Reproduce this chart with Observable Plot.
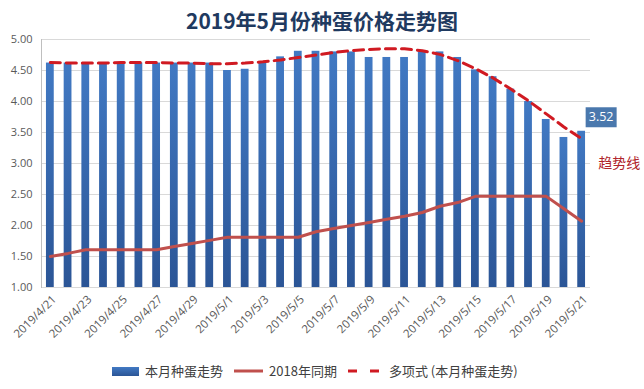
<!DOCTYPE html>
<html><head><meta charset="utf-8">
<script src="https://cdn.jsdelivr.net/npm/d3@7"></script>
<script src="https://cdn.jsdelivr.net/npm/@observablehq/plot@0.6"></script>
<style>
body{margin:0;background:#fff;font-family:"Noto Sans CJK SC","Noto Sans",sans-serif;}
#wrap{position:relative;width:644px;height:389px;overflow:hidden;background:#fff;}
#title{position:absolute;top:8px;left:0;width:644px;text-align:center;font-size:21px;line-height:24px;font-weight:bold;color:#1f3a60;}
#chart{position:absolute;top:0;left:0;}
#legend{position:absolute;top:361px;left:112px;height:20px;display:flex;justify-content:flex-start;align-items:center;font-size:13px;line-height:20px;color:#404040;white-space:nowrap;}
#legend .item{display:flex;align-items:center;margin-right:11px;}
#legend svg{margin-right:6px;}
</style></head>
<body>
<svg width="0" height="0" style="position:absolute"><defs>
<linearGradient id="barGrad" x1="0" y1="0" x2="0" y2="1"><stop offset="0" stop-color="#4179c3"/><stop offset="1" stop-color="#2b5596"/></linearGradient>
</defs></svg>
<div id="wrap">
  <div id="chart"></div>
  <div id="title">2019年5月份种蛋价格走势图</div>
  <div id="legend"></div>
</div>
<script>
const titleText = "2019年5月份种蛋价格走势图";
const dates = ["2019/4/21","2019/4/22","2019/4/23","2019/4/24","2019/4/25","2019/4/26","2019/4/27","2019/4/28","2019/4/29","2019/4/30",
  "2019/5/1","2019/5/2","2019/5/3","2019/5/4","2019/5/5","2019/5/6","2019/5/7","2019/5/8","2019/5/9","2019/5/10",
  "2019/5/11","2019/5/12","2019/5/13","2019/5/14","2019/5/15","2019/5/16","2019/5/17","2019/5/18","2019/5/19","2019/5/20","2019/5/21"];
const priceThisMonth = [4.62,4.62,4.62,4.62,4.62,4.62,4.62,4.62,4.62,4.62,
  4.50,4.52,4.62,4.72,4.81,4.81,4.80,4.80,4.71,4.71,
  4.71,4.80,4.80,4.71,4.51,4.40,4.20,4.00,3.71,3.42,3.52];
const priceLastYear = [1.50,1.55,1.61,1.61,1.61,1.61,1.61,1.66,1.71,1.76,
  1.81,1.81,1.81,1.81,1.81,1.90,1.95,2.00,2.05,2.10,
  2.15,2.21,2.31,2.37,2.47,2.47,2.47,2.47,2.47,2.27,2.07];
const trendValues = [4.63,4.62,4.62,4.62,4.63,4.63,4.63,4.62,4.62,4.61,
  4.61,4.62,4.64,4.67,4.71,4.75,4.79,4.82,4.84,4.85,
  4.85,4.82,4.76,4.66,4.53,4.38,4.20,4.01,3.80,3.59,3.40];
const xTickLabels = ["2019/4/21","2019/4/23","2019/4/25","2019/4/27","2019/4/29","2019/5/1","2019/5/3","2019/5/5",
  "2019/5/7","2019/5/9","2019/5/11","2019/5/13","2019/5/15","2019/5/17","2019/5/19","2019/5/21"];
const yTicks = [1.0,1.5,2.0,2.5,3.0,3.5,4.0,4.5,5.0];
const seriesNames = ["本月种蛋走势","2018年同期","多项式 (本月种蛋走势)"];
const trendLabel = "趋势线";

const rows = dates.map((d,i)=>({date:d, price:priceThisMonth[i], last:priceLastYear[i], trend:trendValues[i]}));
const lastRow = rows[rows.length-1];

const font = "'Open Sans','Noto Sans','Noto Sans CJK SC',sans-serif";
const chart = Plot.plot({
  width:644, height:350,
  marginLeft:41, marginRight:54, marginTop:39, marginBottom:63,
  style:{fontFamily:font, fontSize:"11px", color:"#595959", background:"transparent", overflow:"visible"},
  x:{type:"band", domain:dates, paddingInner:0.56, paddingOuter:0.28, round:false, label:null, axis:null},
  y:{domain:[1,5], label:null, axis:null},
  marks:[
    Plot.gridY(yTicks,{stroke:"#d9d9d9", strokeOpacity:1}),
    Plot.frame({anchor:"left", stroke:"#bfbfbf"}),
    Plot.barY(rows,{x:"date", y1:1, y2:"price", fill:"url(#barGrad)"}),
    Plot.lineY(rows,{x:"date", y:"last", stroke:"#c0504d", strokeWidth:3, strokeLinejoin:"round"}),
    Plot.lineY(rows,{x:"date", y:"trend", stroke:"#d01a22", strokeWidth:3, strokeDasharray:"10,6"}),
    Plot.axisY({ticks:yTicks, tickSize:0, tickPadding:9, tickFormat:d=>d.toFixed(2), fontSize:11, fill:"#595959", label:null}),
    Plot.axisX({ticks:xTickLabels, tickRotate:-45, tickSize:0, tickPadding:10, dx:4, fontSize:11.5, fill:"#595959", label:null}),
    Plot.dot([lastRow],{x:"date", y:"price", dx:19.5, dy:-14, fill:"#4a78ad", stroke:"none",
      symbol:{draw(c){c.rect(-15.5,-10,31,20);}}}),
    Plot.text([lastRow],{x:"date", y:"price", dx:19.5, dy:-14, text:d=>d.price.toFixed(2), fill:"white", fontSize:12.5}),
    Plot.text([lastRow],{x:"date", y:"trend", dx:37.5, dy:25, text:()=>trendLabel, fill:"#b0242b", fontSize:14, fontFamily:"'Noto Sans CJK SC',sans-serif"})
  ]
});
document.getElementById("chart").appendChild(chart);

const legend = document.getElementById("legend");
const sw = [
  `<svg width="27" height="10"><rect x="0" y="1" width="27" height="9" fill="url(#barGrad)"/></svg>`,
  `<svg width="29" height="10"><line x1="0" y1="5" x2="29" y2="5" stroke="#c0504d" stroke-width="3"/></svg>`,
  `<svg width="32" height="10"><line x1="0" y1="5" x2="32" y2="5" stroke="#d01a22" stroke-width="3" stroke-dasharray="9,13"/></svg>`
];
seriesNames.forEach((n,i)=>{
  const it = document.createElement("div");
  it.className="item";
  it.innerHTML = sw[i] + `<span>${n}</span>`;
  if (i===2) it.querySelector("svg").style.marginRight = "9px";
  legend.appendChild(it);
});
</script>
</body></html>
